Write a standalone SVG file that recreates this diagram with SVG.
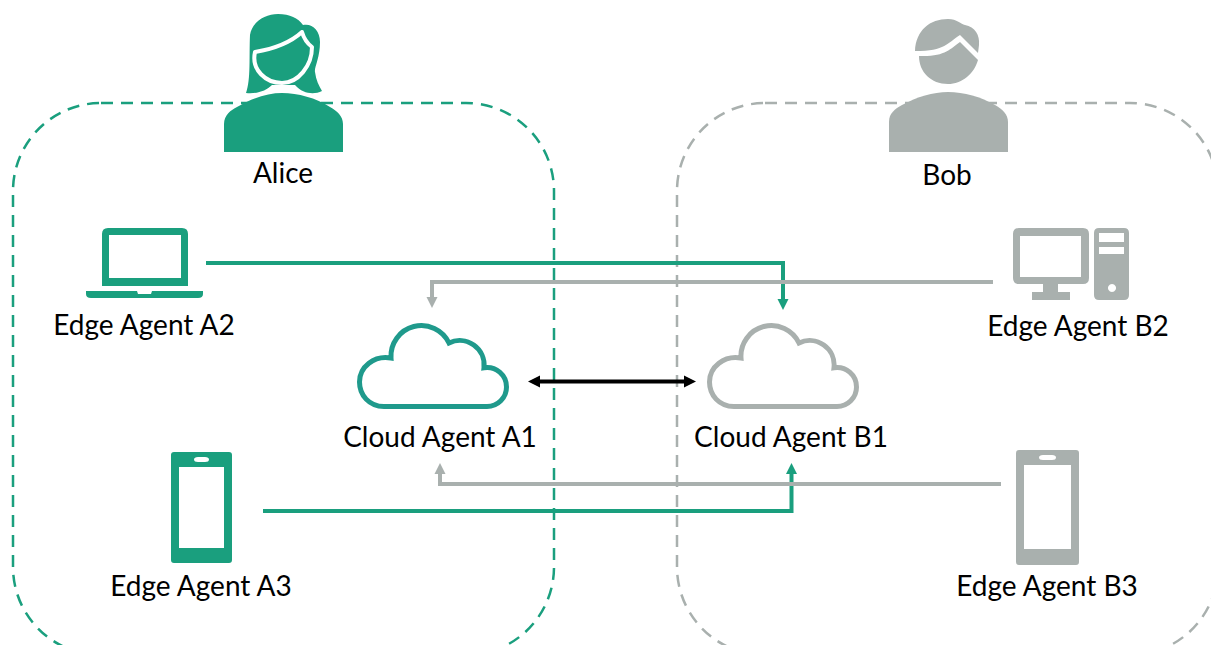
<svg xmlns="http://www.w3.org/2000/svg" width="1211" height="645" viewBox="0 0 1211 645">
<style>
.g{fill:#1a9f7e}.s{fill:#a9b0ae}
.t{font-family:Lato,"Open Sans",sans-serif;font-size:28px;fill:#000;text-anchor:middle}
.box{fill:none;stroke-width:2.5;stroke-dasharray:12 8}
.c{fill:none;stroke-width:4}
.cl{fill:none;stroke-width:5;stroke-linejoin:miter}
</style>
<defs>
<marker id="ag" markerUnits="userSpaceOnUse" markerWidth="12" markerHeight="12" refX="1" refY="6" orient="auto"><path d="M0 .5L11 6L0 11.500Z" fill="#1a9f7e"/></marker>
<marker id="as" markerUnits="userSpaceOnUse" markerWidth="12" markerHeight="12" refX="1" refY="6" orient="auto"><path d="M0 .5L11 6L0 11.500Z" fill="#a9b0ae"/></marker>
<marker id="ak" markerUnits="userSpaceOnUse" markerWidth="13" markerHeight="14" refX="1" refY="7" orient="auto-start-reverse"><path d="M0 1L12 7L0 13Z" fill="#000"/></marker>
<filter id="soft" x="-10%" y="-300%" width="120%" height="700%"><feGaussianBlur stdDeviation="2.500"/></filter>
<path id="cloud" d="M384 406.500C369 406.500 359.500 395 359.500 382C359.500 367 374 355 391 358A30.500 30.500 0 0 1 449 343A24.500 24.500 0 0 1 484 367.700A19.500 19.500 0 0 1 506.500 387A19.500 19.500 0 0 1 487 406.500Z"/>
</defs>
<g id="boundaries">
<rect class="box" x="13" y="103" width="541" height="552" rx="88" stroke="#1a9f7e"/>
<rect class="box" x="677" y="103" width="541" height="552" rx="88" stroke="#a9b0ae"/>
</g>
<g id="connectors">
<path class="c" d="M206 263H783V300" stroke="#1a9f7e" marker-end="url(#ag)"/>
<path class="c" d="M993 282H432V298" stroke="#a9b0ae" marker-end="url(#as)"/>
<path class="c" d="M263 511H791.500V473" stroke="#1a9f7e" marker-end="url(#ag)"/>
<path class="c" d="M1001 484H440V473" stroke="#a9b0ae" marker-end="url(#as)"/>
<path d="M530 384H696" stroke="#000" stroke-opacity=".45" stroke-width="4" filter="url(#soft)"/>
<path class="c" d="M539 381.500H685" stroke="#000" marker-start="url(#ak)" marker-end="url(#ak)"/>
</g>
<g id="alice">
<path class="g" d="M246 93C251 80 249 55 250 35C252 22 265 14 278 14C290 14 298 18 303 25C312 23 320 30 320 42C320 58 314 68 315 72C316 80 319 86 322 91C314 95 303 94 295 85H272C266 91 257 94 246 93Z"/>
<path class="g" stroke="#fff" stroke-width="4" stroke-linejoin="round" d="M302 32C290 43 273 49 255 52C251 70 266 83 282 83C298 83 312 66 312 47C308 44 304 39 302 32Z"/>
<path class="g" d="M224 152V124C224 115 231 110 237 107C252 98 268 93 282 93C298 93 316 98 330 107C337 111 343 116 343 124V152Z"/>
<text class="t" x="283" y="183">Alice</text>
</g>
<g id="bob">
<path class="s" d="M915 51C916 30 930 19 948 19C957 19 961 24 965 25C975 27 980 35 979 45L978 53L960 35C947 43 946 51 915 51Z"/>
<path class="s" d="M919 56C945 57 950 49 960 42L978 60C974 74 962 84 948 84C931 84 919 72 919 56Z"/>
<path class="s" d="M889 152V122C889 113 895 109 902 105C917 97 933 92 948 92C964 92 981 97 995 105C1002 109 1008 114 1008 122V152Z"/>
<text class="t" x="947" y="185">Bob</text>
</g>
<g id="edge-a2">
<path class="g" d="M102 286V234Q102 228 108 228H182Q188 228 188 234V286ZM109 235V278H181V235Z" fill-rule="evenodd"/>
<path class="g" d="M86 291H137L138 294H151L152 291H203V294Q203 298 198 298H91Q86 298 86 294Z"/>
<text class="t" x="144" y="335">Edge Agent A2</text>
</g>
<g id="edge-b2">
<path class="s" d="M1013 234Q1013 228 1019 228H1083Q1089 228 1089 234V278Q1089 284 1083 284H1058V292H1070V300H1032V292H1043V284H1019Q1013 284 1013 278ZM1020 236V277H1081V236Z" fill-rule="evenodd"/>
<path class="s" d="M1094 233Q1094 228 1099 228H1124Q1129 228 1129 233V295Q1129 300 1124 300H1099Q1094 300 1094 295ZM1099 233V242H1124V233ZM1099 247V254H1124V247ZM1112 284a4 4 0 1 0 .01 0Z" fill-rule="evenodd"/>
<text class="t" x="1078" y="336">Edge Agent B2</text>
</g>
<g id="cloud-a1">
<use href="#cloud" class="cl" stroke="#1f9a8c"/>
<text class="t" x="440" y="447">Cloud Agent A1</text>
</g>
<g id="cloud-b1">
<use href="#cloud" class="cl" stroke="#a9b0ae" x="350"/>
<text class="t" x="791" y="447">Cloud Agent B1</text>
</g>
<g id="edge-a3">
<path class="g" d="M171 455Q171 452 174 452H229Q232 452 232 455V560Q232 563 229 563H174Q171 563 171 560ZM179 467V548H224V467ZM198 457Q194 457 194 459.500Q194 462 198 462H205Q209 462 209 459.500Q209 457 205 457Z" fill-rule="evenodd"/>
<text class="t" x="201" y="596">Edge Agent A3</text>
</g>
<g id="edge-b3">
<path class="s" d="M1016 453Q1016 450 1019 450H1076Q1079 450 1079 453V562Q1079 565 1076 565H1019Q1016 565 1016 562ZM1024 465V549H1071V465ZM1043 455Q1039 455 1039 457.500Q1039 460 1043 460H1052Q1056 460 1056 457.500Q1056 455 1052 455Z" fill-rule="evenodd"/>
<text class="t" x="1047" y="596">Edge Agent B3</text>
</g>
</svg>
